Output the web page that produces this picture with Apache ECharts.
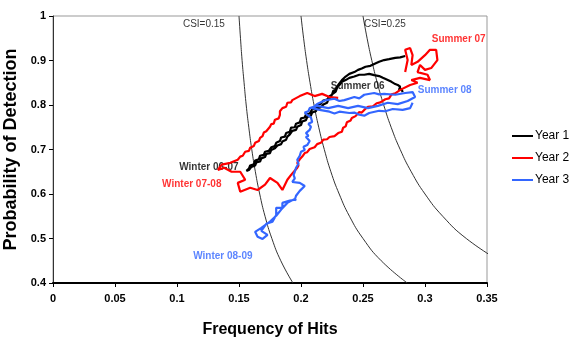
<!DOCTYPE html>
<html><head><meta charset="utf-8">
<script src="https://cdn.jsdelivr.net/npm/echarts@6/dist/echarts.min.js"></script>
<style>html,body{margin:0;padding:0;background:#fff}#c{width:572px;height:337px}</style>
</head><body><div id="c"></div>
<script>
// ---- data ----
const xTicks = [0, 0.05, 0.1, 0.15, 0.2, 0.25, 0.3, 0.35];
const yTicks = [0.4, 0.5, 0.6, 0.7, 0.8, 0.9, 1];
const seriesNames = ['Year 1', 'Year 2', 'Year 3'];

const year1 = [
[0.282,0.829],[0.281,0.836],[0.279,0.834],[0.280,0.841],[0.278,0.845],[0.276,0.847],[0.273,0.852],[0.270,0.856],[0.266,0.861],[0.263,0.865],[0.259,0.867],[0.255,0.870],[0.251,0.868],[0.247,0.868],[0.243,0.864],[0.239,0.861],[0.236,0.856],[0.233,0.852],
[0.231,0.845],[0.229,0.841],[0.228,0.834],[0.226,0.832],[0.225,0.823],[0.223,0.820],[0.221,0.812],[0.218,0.810],[0.216,0.803],[0.213,0.800],[0.212,0.792],[0.209,0.790],[0.207,0.781],[0.204,0.779],[0.203,0.772],[0.200,0.770],[0.199,0.761],[0.196,0.758],[0.195,0.750],[0.192,0.749],[0.191,0.740],[0.188,0.737],[0.187,0.729],[0.184,0.727],[0.183,0.719],[0.180,0.715],[0.179,0.708],[0.176,0.705],[0.174,0.697],[0.171,0.695],[0.170,0.688],[0.167,0.686],[0.166,0.678],[0.163,0.675],[0.162,0.667],[0.159,0.664],[0.158,0.657],[0.156,0.652],
[0.158,0.654],[0.160,0.661],[0.163,0.664],[0.164,0.671],[0.167,0.673],[0.168,0.680],[0.171,0.683],[0.172,0.690],[0.175,0.692],[0.176,0.699],[0.179,0.703],[0.181,0.709],[0.184,0.712],[0.185,0.718],[0.188,0.722],[0.189,0.729],[0.191,0.734],[0.193,0.742],[0.196,0.744],[0.197,0.751],[0.200,0.755],[0.201,0.763],[0.204,0.766],[0.205,0.773],[0.208,0.776],[0.209,0.783],[0.212,0.786],[0.213,0.792],[0.216,0.795],[0.218,0.801],[0.221,0.805],[0.222,0.812],[0.224,0.817],[0.225,0.824],[0.228,0.830],[0.229,0.838],[0.230,0.845],[0.233,0.856],[0.236,0.864],[0.239,0.870],[0.243,0.874],[0.246,0.879],[0.249,0.882],[0.252,0.886],[0.256,0.888],[0.259,0.892],[0.263,0.897],[0.267,0.901],[0.271,0.903],[0.276,0.906],[0.280,0.907],[0.284,0.910]
];

const year2 = [
[0.284,0.874],[0.286,0.901],[0.284,0.924],[0.288,0.928],[0.290,0.912],[0.289,0.890],[0.294,0.897],[0.300,0.912],[0.304,0.924],[0.309,0.924],[0.310,0.901],[0.305,0.883],[0.300,0.879],[0.296,0.890],[0.294,0.874],[0.302,0.868],[0.304,0.856],[0.296,0.861],[0.289,0.856],[0.294,0.850],[0.288,0.845],
[0.280,0.834],[0.276,0.826],[0.273,0.824],[0.271,0.815],[0.268,0.813],[0.264,0.806],[0.261,0.804],[0.258,0.797],[0.254,0.796],[0.251,0.789],[0.249,0.783],[0.247,0.784],[0.244,0.775],[0.241,0.771],[0.240,0.765],[0.237,0.761],[0.236,0.752],[0.234,0.749],[0.233,0.740],[0.230,0.737],[0.227,0.730],[0.223,0.728],[0.221,0.723],[0.218,0.722],[0.216,0.715],[0.213,0.712],[0.211,0.705],[0.207,0.701],[0.205,0.694],[0.203,0.692],[0.201,0.684],[0.199,0.678],[0.197,0.670],[0.198,0.664],[0.197,0.659],
[0.192,0.643],[0.189,0.632],[0.185,0.609],[0.181,0.625],[0.175,0.636],[0.171,0.621],[0.165,0.609],[0.159,0.614],[0.151,0.605],[0.149,0.625],[0.155,0.632],[0.151,0.650],[0.144,0.650],[0.138,0.659],[0.133,0.654],[0.136,0.666],[0.143,0.670],
[0.149,0.677],[0.151,0.684],[0.153,0.686],[0.155,0.695],[0.158,0.697],[0.159,0.704],[0.162,0.708],[0.163,0.715],[0.166,0.719],[0.167,0.726],[0.169,0.730],[0.170,0.738],[0.172,0.741],[0.175,0.751],[0.176,0.757],[0.178,0.758],[0.179,0.767],[0.182,0.770],[0.183,0.778],[0.183,0.786],[0.185,0.793],[0.188,0.796],[0.189,0.805],[0.192,0.806],[0.193,0.811],[0.199,0.820],[0.205,0.827],[0.211,0.820],[0.217,0.825],[0.223,0.818],[0.230,0.816]
];

const year3 = [
[0.290,0.805],[0.288,0.793],[0.282,0.789],[0.274,0.791],[0.268,0.786],[0.263,0.787],[0.255,0.782],[0.251,0.776],[0.247,0.778],[0.243,0.783],[0.239,0.782],[0.231,0.785],[0.227,0.781],[0.223,0.785],[0.215,0.789],[0.209,0.793],[0.213,0.802],[0.220,0.811],[0.227,0.814],[0.231,0.809],[0.235,0.811],[0.243,0.818],[0.247,0.815],[0.251,0.823],[0.259,0.827],[0.263,0.824],[0.267,0.825],[0.276,0.823],[0.284,0.827],[0.290,0.829],[0.292,0.818],[0.286,0.809],[0.278,0.802],[0.270,0.805],[0.262,0.798],[0.254,0.793],[0.246,0.798],[0.238,0.793],[0.230,0.798],[0.222,0.793],[0.213,0.798],
[0.207,0.793],[0.206,0.786],[0.203,0.783],[0.205,0.778],[0.208,0.772],[0.209,0.762],[0.206,0.758],[0.208,0.751],[0.207,0.744],[0.204,0.737],[0.206,0.731],[0.204,0.728],[0.207,0.719],[0.205,0.710],[0.202,0.706],[0.203,0.699],[0.200,0.695],[0.199,0.686],[0.197,0.677],[0.198,0.668],[0.196,0.659],[0.195,0.650],[0.194,0.643],[0.195,0.635],[0.193,0.627],
[0.199,0.625],[0.203,0.618],[0.199,0.607],[0.196,0.596],[0.195,0.587],[0.191,0.585],[0.185,0.580],[0.185,0.569],[0.180,0.569],[0.180,0.553],[0.177,0.538],[0.172,0.533],[0.168,0.517],[0.173,0.508],[0.169,0.499],[0.165,0.504],[0.163,0.515],[0.168,0.524],[0.175,0.538],[0.180,0.551],[0.184,0.565],[0.189,0.580],[0.195,0.589],[0.196,0.585],[0.194,0.591]
];

// CSI isolines
const csi15 = [[0.150,1],[0.1512,0.95],[0.1525,0.9],[0.1541,0.85],[0.1558,0.8],[0.1579,0.75],[0.1603,0.7],[0.1632,0.65],[0.1667,0.6],[0.1710,0.55],[0.1765,0.5],[0.1837,0.45],[0.1935,0.4]];
const csi20 = [[0.200,1],[0.2021,0.95],[0.2045,0.9],[0.2073,0.85],[0.2105,0.8],[0.2143,0.75],[0.2188,0.7],[0.2241,0.65],[0.2308,0.6],[0.2391,0.55],[0.2500,0.5],[0.2647,0.45],[0.2857,0.4]];
const csi25 = [[0.250,1],[0.2533,0.95],[0.2571,0.9],[0.2615,0.85],[0.2667,0.8],[0.2727,0.75],[0.2800,0.7],[0.2889,0.65],[0.3000,0.6],[0.3143,0.55],[0.3333,0.5],[0.3600,0.45]];

// annotations: text, x, y
const annoText = ['CSI=0.15','CSI=0.25','Summer 07','Summer 06','Summer 08','Winter 06-07','Winter 07-08','Winter 08-09'];
const annoX = [0.1217,0.2677,0.3272,0.2457,0.3159,0.1257,0.1119,0.137];
const annoY = [0.982,0.982,0.948,0.843,0.834,0.661,0.621,0.461];
const annoKind = [0,0,2,1,3,1,2,3]; // 0 = curve label, 1..3 = year

// ---- chart ----
const colors = ['#000000', '#ff0000', '#3366ff'];
const chart = echarts.init(document.getElementById('c'), null, {renderer: 'canvas'});
const sans = 'Liberation Sans, Arial, sans-serif';
const tickFont = {fontFamily: sans, fontWeight: 'bold', fontSize: 11, color: '#000'};

const curveSeries = [csi15, csi20, csi25].map((d, i) => ({
  name: 'csi' + i, type: 'line', data: d, smooth: true, showSymbol: false, silent: true,
  lineStyle: {color: '#333', width: 1}, z: 1
}));
const yearSeries = [year1, year2, year3].map((d, i) => ({
  name: seriesNames[i], type: 'line', data: d, showSymbol: false, symbol: 'none',
  lineStyle: {color: colors[i], width: 2.2}, itemStyle: {color: colors[i]}, z: 3 + i
}));
const annoSeries = {
  name: 'anno', type: 'scatter', symbolSize: 0, silent: true, z: 2,
  data: annoText.map((t, i) => ({
    value: [annoX[i], annoY[i]],
    label: {
      show: true, position: 'inside', formatter: t,
      fontFamily: sans, fontSize: 10, fontWeight: annoKind[i] === 0 ? 'normal' : 'bold',
      color: annoKind[i] === 0 ? '#000' : colors[annoKind[i] - 1]
    }
  }))
};

chart.setOption({
  animation: false,
  backgroundColor: '#fff',
  grid: {left: 53, right: 85, top: 16, bottom: 54, show: true, borderColor: '#999', borderWidth: 1,
         backgroundColor: 'transparent', containLabel: false, outerBoundsMode: 'none'},
  xAxis: {
    type: 'value', min: xTicks[0], max: xTicks[xTicks.length - 1], interval: 0.05,
    name: 'Frequency of Hits', nameLocation: 'middle', nameGap: 39,
    nameTextStyle: {fontFamily: sans, fontWeight: 'bold', fontSize: 16, color: '#000'},
    axisLine: {show: true, lineStyle: {color: '#000', width: 2}},
    axisTick: {show: true, inside: false, length: 4, lineStyle: {color: '#000'}},
    axisLabel: Object.assign({margin: 10}, tickFont),
    splitLine: {show: false}
  },
  yAxis: {
    type: 'value', min: yTicks[0], max: yTicks[yTicks.length - 1], interval: 0.1,
    name: 'Probability of Detection', nameLocation: 'middle', nameGap: 29,
    nameTextStyle: {fontFamily: sans, fontWeight: 'bold', fontSize: 18, color: '#000'},
    axisLine: {show: true, lineStyle: {color: '#333', width: 1}},
    axisTick: {show: true, inside: false, length: 4, lineStyle: {color: '#000'}},
    axisLabel: Object.assign({margin: 7}, tickFont),
    splitLine: {show: false}
  },
  legend: {
    data: seriesNames, orient: 'vertical', left: 512, top: 129, padding: 0,
    icon: 'rect', itemWidth: 21, itemHeight: 2, itemGap: 8,
    textStyle: {fontFamily: sans, fontSize: 12, color: '#000', padding: [0, 0, 0, -3], lineHeight: 14}
  },
  series: [...curveSeries, annoSeries, ...yearSeries]
});
</script></body></html>
